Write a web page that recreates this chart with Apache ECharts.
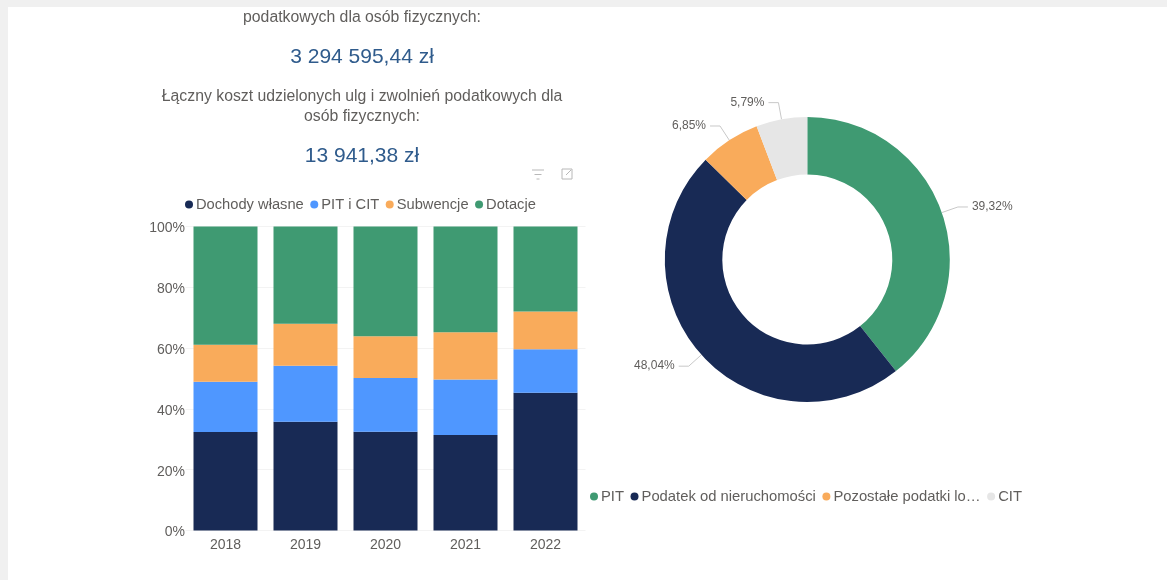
<!DOCTYPE html>
<html>
<head>
<meta charset="utf-8">
<style>
html,body{margin:0;padding:0;width:1167px;height:580px;overflow:hidden;background:#f0f0f0}
#panel{position:absolute;left:8px;top:7px;width:1159px;height:573px;background:#fff}
#chart{position:absolute;left:0;top:0;width:1167px;height:580px}
</style>
<script src="https://cdn.jsdelivr.net/npm/echarts@6/dist/echarts.min.js"></script>
</head>
<body>
<div id="panel"></div>
<div id="chart"></div>
<script>
const years = ['2018','2019','2020','2021','2022'];
const dochodyWlasne = [32.4,35.8,32.5,31.4,45.3];
const pitICit = [16.5,18.4,17.7,18.3,14.3];
const subwencje = [12.2,13.8,13.7,15.5,12.4];
const dotacje = [38.9,32.0,36.1,34.8,28.0];
const barTicks = ['0%','20%','40%','60%','80%','100%'];
const taxNames = ['PIT','Podatek od nieruchomości','Pozostałe podatki lo…','CIT'];
const taxShares = [39.32,48.04,6.85,5.79];
const headingOne = 'podatkowych dla osób fizycznych:';
const amountOne = '3 294 595,44 zł';
const headingTwo = ['Łączny koszt udzielonych ulg i zwolnień podatkowych dla','osób fizycznych:'];
const amountTwo = '13 941,38 zł';

const NAVY='#182A55', BLUE='#4F97FF', ORANGE='#F9AB5B', GREEN='#3F9A72', GREY='#E6E6E6';
const FONT='"Liberation Sans", Arial, sans-serif';
const TXT='#605E5C', ICON='#B8B8B8';

function bar(name,data,color){
  return {name,type:'bar',stack:'s',data,barCategoryGap:'20%',
    itemStyle:{color},emphasis:{disabled:true}};
}
function txt(s,x,y,size,fill){
  return {type:'text',x,y,silent:true,style:{text:s,x:0,y:0,align:'center',verticalAlign:'middle',font:size+'px '+FONT,fill}};
}
function seg(x1,y1,x2,y2){
  return {type:'line',silent:true,shape:{x1,y1,x2,y2},style:{stroke:ICON,lineWidth:1}};
}
const chart = echarts.init(document.getElementById('chart'),null,{renderer:'canvas'});
chart.setOption({
  animation:false,
  backgroundColor:'transparent',
  textStyle:{fontFamily:FONT},
  legend:[
    {seriesIndex:[0,1,2,3],data:['Dochody własne','PIT i CIT','Subwencje','Dotacje'],
     left:185,top:197,padding:0,icon:'circle',itemWidth:8,itemHeight:8,itemGap:6.5,
     textStyle:{color:TXT,fontSize:14.7,fontFamily:FONT,padding:[0,0,0,-2]},selectedMode:false},
    {data:taxNames,left:590,top:489,padding:0,icon:'circle',itemWidth:8,itemHeight:8,itemGap:6.5,
     textStyle:{color:TXT,fontSize:14.8,fontFamily:FONT,padding:[0,0,0,-2]},selectedMode:false}
  ],
  grid:{left:185.5,top:226.5,width:400,height:304,containLabel:false},
  xAxis:{type:'category',data:years,
    axisLine:{show:false},axisTick:{show:false},
    axisLabel:{color:TXT,fontSize:14,fontFamily:FONT,margin:8}},
  yAxis:{type:'value',min:0,max:100,interval:20,
    axisLine:{show:false},axisTick:{show:false},
    splitLine:{lineStyle:{color:'#F3F3F3',width:1}},
    axisLabel:{color:TXT,fontSize:14,fontFamily:FONT,margin:0.5,verticalAlign:'top',padding:[-5,0,0,0],
      formatter:(v)=>barTicks[v/20]}},
  series:[
    bar('Dochody własne',dochodyWlasne,NAVY),
    bar('PIT i CIT',pitICit,BLUE),
    bar('Subwencje',subwencje,ORANGE),
    bar('Dotacje',dotacje,GREEN),
    {type:'pie',name:'Podatki',center:[807.3,259.5],radius:[85,142.5],startAngle:90,clockwise:true,
     avoidLabelOverlap:false,
     emphasis:{disabled:true},
     data:taxNames.map((n,i)=>({name:n,value:taxShares[i],
       itemStyle:{color:[GREEN,NAVY,ORANGE,GREY][i]}})),
     label:{show:true,position:'outside',color:TXT,fontSize:12,fontFamily:FONT,
       formatter:(p)=>p.value.toFixed(2).replace('.',',')+'%',distanceToLabelLine:4},
     labelLine:{show:true,length:17,length2:10,lineStyle:{color:'#C8C8C8',width:1}}}
  ],
  graphic:[
    txt(headingOne,362,18,15.8,TXT),
    txt(amountOne,362,57,21,'#2F5B8C'),
    txt(headingTwo[0],362,97,15.8,TXT),
    txt(headingTwo[1],362,117,15.8,TXT),
    txt(amountTwo,362,156,21,'#2F5B8C'),
    seg(532,170,544,170),seg(534.5,174.5,541.5,174.5),seg(536.5,179,539.5,179),
    seg(562,169,572,169),seg(572,169,572,179),seg(572,179,562,179),seg(562,179,562,169),
    seg(566,175,571,170)
  ]
});
</script>
</body>
</html>
